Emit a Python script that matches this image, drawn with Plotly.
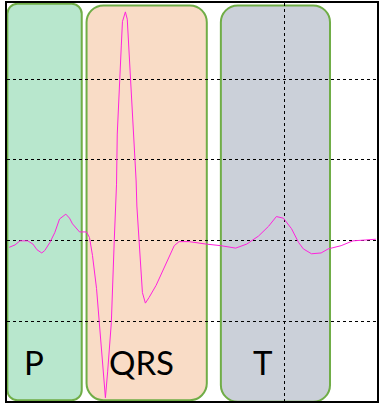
import plotly.graph_objects as go

# ECG trace (time fraction, mV)
t = [0.006, 0.022, 0.035, 0.056, 0.070, 0.081, 0.094, 0.102, 0.116, 0.129, 0.142, 0.159,
     0.169, 0.177, 0.196, 0.215, 0.223, 0.231, 0.242, 0.250, 0.258, 0.266, 0.272, 0.282,
     0.290, 0.296, 0.298, 0.304, 0.309, 0.312, 0.317, 0.320, 0.325, 0.331, 0.336, 0.339,
     0.344, 0.349, 0.351, 0.358, 0.366, 0.374, 0.384, 0.403, 0.419, 0.438, 0.452, 0.465,
     0.492, 0.538, 0.578, 0.618, 0.648, 0.680, 0.707, 0.728, 0.747, 0.769, 0.788, 0.801,
     0.823, 0.849, 0.868, 0.903, 0.935, 0.968, 0.997]
mv = [-0.08, -0.05, 0.00, 0.00, -0.04, -0.11, -0.15, -0.12, -0.02, 0.10, 0.27, 0.33,
      0.28, 0.21, 0.11, 0.11, 0.04, -0.18, -0.59, -1.08, -1.54, -1.94, -1.62, -1.01,
      0.02, 0.70, 1.32, 1.84, 2.42, 2.71, 2.80, 2.83, 2.74, 2.25, 1.93, 1.64,
      1.23, 0.74, 0.43, -0.10, -0.64, -0.77, -0.70, -0.55, -0.39, -0.21, -0.06, -0.01,
      -0.01, -0.04, -0.06, -0.09, -0.04, 0.06, 0.18, 0.30, 0.28, 0.15, -0.02, -0.10,
      -0.16, -0.15, -0.10, -0.06, 0.00, 0.01, 0.02]

# Waves: name, start, end, label position
wave_names = ["P", "QRS", "T"]
wave_start = [0.001, 0.215, 0.578]
wave_end = [0.202, 0.540, 0.873]
label_x = [0.073, 0.363, 0.691]
wave_fill = ["#b8e7cd", "#f9dcc6", "#cbd0d9"]

X_RANGE = [0, 1]
Y_RANGE = [-1.98, 2.94]
W, H = 380, 409
ML, MR, MT, MB = 7, 1, 1, 8
PW = W - ML - MR
PH = H - MT - MB
px_x = (X_RANGE[1] - X_RANGE[0]) / PW
px_y = (Y_RANGE[1] - Y_RANGE[0]) / PH


def rounded_rect(x0, x1, y0, y1, r):
    rx, ry = r * px_x, r * px_y
    k = 0.5523
    return (
        f"M {x0+rx},{y1} L {x1-rx},{y1} "
        f"C {x1-rx+k*rx},{y1} {x1},{y1-ry+k*ry} {x1},{y1-ry} "
        f"L {x1},{y0+ry} "
        f"C {x1},{y0+ry-k*ry} {x1-rx+k*rx},{y0} {x1-rx},{y0} "
        f"L {x0+rx},{y0} "
        f"C {x0+rx-k*rx},{y0} {x0},{y0+ry-k*ry} {x0},{y0+ry} "
        f"L {x0},{y1-ry} "
        f"C {x0},{y1-ry+k*ry} {x0+rx-k*rx},{y1} {x0+rx},{y1} Z"
    )


tops = [2.93, 2.91, 2.91]
bots = [-1.97, -1.97, -1.99]
radii = [10, 17, 17]

shapes = []
annotations = []
for name, s, e, lx, fc, tp, bt, r in zip(wave_names, wave_start, wave_end, label_x,
                                         wave_fill, tops, bots, radii):
    shapes.append(dict(type="path", path=rounded_rect(s, e, bt, tp, r), xref="x", yref="y",
                       fillcolor=fc, line=dict(color="#70ad47", width=2), layer="below"))
    annotations.append(dict(x=lx, y=-1.50, text=name,
                            showarrow=False, xref="x", yref="y",
                            font=dict(family="Lato", size=33, color="black")))

fig = go.Figure()
fig.add_trace(go.Scatter(x=t, y=mv, mode="lines", line=dict(color="#ff22dd", width=1),
                         hoverinfo="skip"))

fig.update_layout(
    width=W, height=H,
    margin=dict(l=ML, r=MR, t=MT, b=MB),
    paper_bgcolor="white", plot_bgcolor="white",
    showlegend=False,
    shapes=shapes,
    annotations=annotations,
    xaxis=dict(range=X_RANGE, tickvals=[0.75], showticklabels=False, ticks="",
               showgrid=True, gridcolor="black", griddash="3px,3px", gridwidth=1,
               zeroline=False, showline=True, linecolor="black", linewidth=2, mirror=True),
    yaxis=dict(range=Y_RANGE, tickvals=[-1, 0, 1, 2], showticklabels=False, ticks="",
               showgrid=True, gridcolor="black", griddash="3px,3px", gridwidth=1,
               zeroline=False, showline=True, linecolor="black", linewidth=2, mirror=True),
)

fig.write_html("out.html", config={"displayModeBar": False},
               post_script="document.body.style.margin='0';")
